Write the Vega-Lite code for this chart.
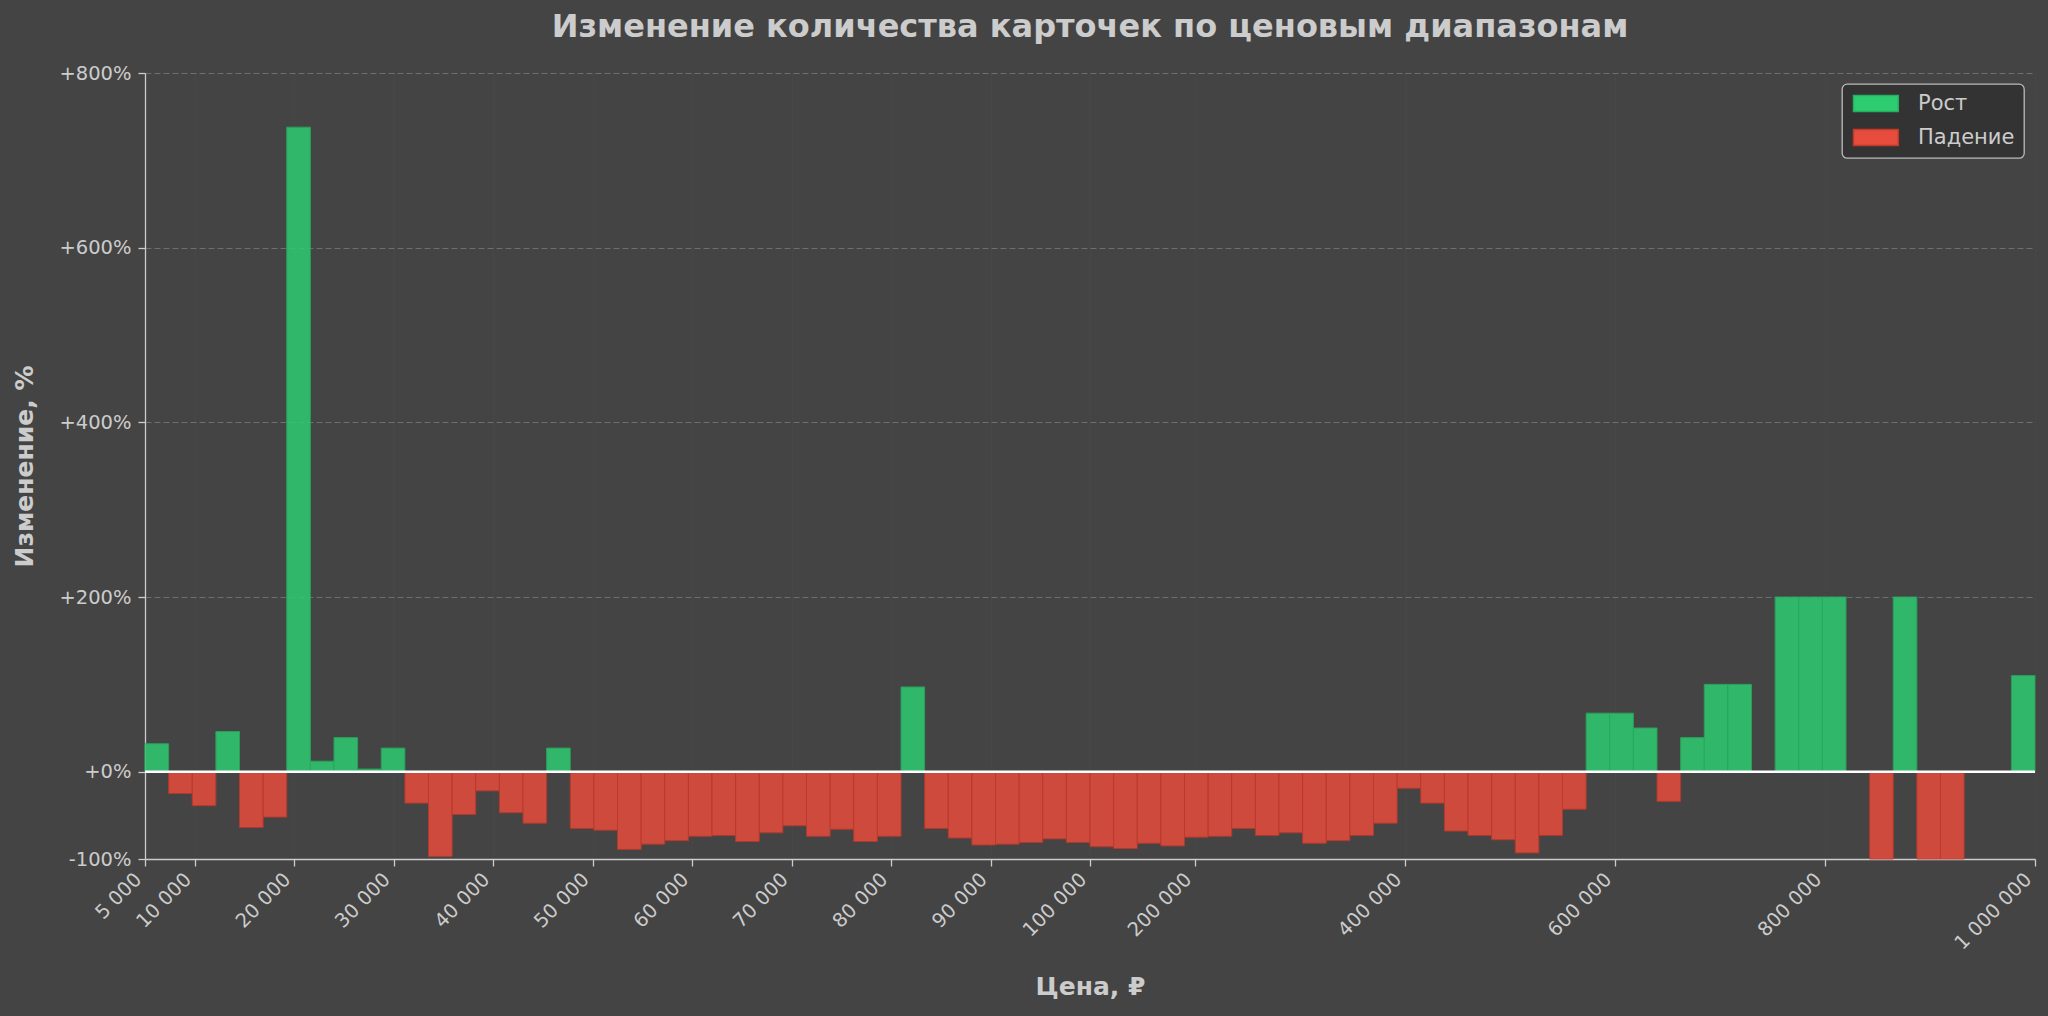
{
  "$schema": "https://vega.github.io/schema/vega-lite/v6.json",
  "background": "#444444",
  "autosize": {"type": "none"},
  "padding": {"left": 145, "top": 73, "right": 13, "bottom": 157},
  "width": 1890,
  "height": 786,
  "title": {
    "text": "Изменение количества карточек по ценовым диапазонам",
    "fontSize": 32,
    "fontWeight": "bold",
    "color": "#cccccc",
    "anchor": "middle",
    "offset": 19
  },
  "layer": [
    {
      "data": {
        "values": [
          {"lo": 5000, "hi": 7375, "pct": 32, "dir": "Рост"},
          {"lo": 7375, "hi": 9750, "pct": -25, "dir": "Падение"},
          {"lo": 9750, "hi": 12125, "pct": -39, "dir": "Падение"},
          {"lo": 12125, "hi": 14500, "pct": 46, "dir": "Рост"},
          {"lo": 14500, "hi": 16875, "pct": -64, "dir": "Падение"},
          {"lo": 16875, "hi": 19250, "pct": -52, "dir": "Падение"},
          {"lo": 19250, "hi": 21625, "pct": 738, "dir": "Рост"},
          {"lo": 21625, "hi": 24000, "pct": 12, "dir": "Рост"},
          {"lo": 24000, "hi": 26375, "pct": 39, "dir": "Рост"},
          {"lo": 26375, "hi": 28750, "pct": 3, "dir": "Рост"},
          {"lo": 28750, "hi": 31125, "pct": 27, "dir": "Рост"},
          {"lo": 31125, "hi": 33500, "pct": -36, "dir": "Падение"},
          {"lo": 33500, "hi": 35875, "pct": -97, "dir": "Падение"},
          {"lo": 35875, "hi": 38250, "pct": -49, "dir": "Падение"},
          {"lo": 38250, "hi": 40625, "pct": -22, "dir": "Падение"},
          {"lo": 40625, "hi": 43000, "pct": -47, "dir": "Падение"},
          {"lo": 43000, "hi": 45375, "pct": -59, "dir": "Падение"},
          {"lo": 45375, "hi": 47750, "pct": 27, "dir": "Рост"},
          {"lo": 47750, "hi": 50125, "pct": -65, "dir": "Падение"},
          {"lo": 50125, "hi": 52500, "pct": -67, "dir": "Падение"},
          {"lo": 52500, "hi": 54875, "pct": -89, "dir": "Падение"},
          {"lo": 54875, "hi": 57250, "pct": -83, "dir": "Падение"},
          {"lo": 57250, "hi": 59625, "pct": -79, "dir": "Падение"},
          {"lo": 59625, "hi": 62000, "pct": -74, "dir": "Падение"},
          {"lo": 62000, "hi": 64375, "pct": -73, "dir": "Падение"},
          {"lo": 64375, "hi": 66750, "pct": -80, "dir": "Падение"},
          {"lo": 66750, "hi": 69125, "pct": -70, "dir": "Падение"},
          {"lo": 69125, "hi": 71500, "pct": -62, "dir": "Падение"},
          {"lo": 71500, "hi": 73875, "pct": -74, "dir": "Падение"},
          {"lo": 73875, "hi": 76250, "pct": -66, "dir": "Падение"},
          {"lo": 76250, "hi": 78625, "pct": -80, "dir": "Падение"},
          {"lo": 78625, "hi": 81000, "pct": -74, "dir": "Падение"},
          {"lo": 81000, "hi": 83375, "pct": 97, "dir": "Рост"},
          {"lo": 83375, "hi": 85750, "pct": -65, "dir": "Падение"},
          {"lo": 85750, "hi": 88125, "pct": -76, "dir": "Падение"},
          {"lo": 88125, "hi": 90500, "pct": -84, "dir": "Падение"},
          {"lo": 90500, "hi": 92875, "pct": -83, "dir": "Падение"},
          {"lo": 92875, "hi": 95250, "pct": -81, "dir": "Падение"},
          {"lo": 95250, "hi": 97625, "pct": -77, "dir": "Падение"},
          {"lo": 97625, "hi": 100000, "pct": -81, "dir": "Падение"},
          {"lo": 100000, "hi": 122500, "pct": -86, "dir": "Падение"},
          {"lo": 122500, "hi": 145000, "pct": -88, "dir": "Падение"},
          {"lo": 145000, "hi": 167500, "pct": -82, "dir": "Падение"},
          {"lo": 167500, "hi": 190000, "pct": -85, "dir": "Падение"},
          {"lo": 190000, "hi": 212500, "pct": -75, "dir": "Падение"},
          {"lo": 212500, "hi": 235000, "pct": -74, "dir": "Падение"},
          {"lo": 235000, "hi": 257500, "pct": -65, "dir": "Падение"},
          {"lo": 257500, "hi": 280000, "pct": -73, "dir": "Падение"},
          {"lo": 280000, "hi": 302500, "pct": -70, "dir": "Падение"},
          {"lo": 302500, "hi": 325000, "pct": -82, "dir": "Падение"},
          {"lo": 325000, "hi": 347500, "pct": -79, "dir": "Падение"},
          {"lo": 347500, "hi": 370000, "pct": -73, "dir": "Падение"},
          {"lo": 370000, "hi": 392500, "pct": -59, "dir": "Падение"},
          {"lo": 392500, "hi": 415000, "pct": -19, "dir": "Падение"},
          {"lo": 415000, "hi": 437500, "pct": -36, "dir": "Падение"},
          {"lo": 437500, "hi": 460000, "pct": -68, "dir": "Падение"},
          {"lo": 460000, "hi": 482500, "pct": -73, "dir": "Падение"},
          {"lo": 482500, "hi": 505000, "pct": -78, "dir": "Падение"},
          {"lo": 505000, "hi": 527500, "pct": -93, "dir": "Падение"},
          {"lo": 527500, "hi": 550000, "pct": -73, "dir": "Падение"},
          {"lo": 550000, "hi": 572500, "pct": -43, "dir": "Падение"},
          {"lo": 572500, "hi": 595000, "pct": 67, "dir": "Рост"},
          {"lo": 595000, "hi": 617500, "pct": 67, "dir": "Рост"},
          {"lo": 617500, "hi": 640000, "pct": 50, "dir": "Рост"},
          {"lo": 640000, "hi": 662500, "pct": -34, "dir": "Падение"},
          {"lo": 662500, "hi": 685000, "pct": 39, "dir": "Рост"},
          {"lo": 685000, "hi": 707500, "pct": 100, "dir": "Рост"},
          {"lo": 707500, "hi": 730000, "pct": 100, "dir": "Рост"},
          {"lo": 730000, "hi": 752500, "pct": 0, "dir": "Рост"},
          {"lo": 752500, "hi": 775000, "pct": 200, "dir": "Рост"},
          {"lo": 775000, "hi": 797500, "pct": 200, "dir": "Рост"},
          {"lo": 797500, "hi": 820000, "pct": 200, "dir": "Рост"},
          {"lo": 820000, "hi": 842500, "pct": 0, "dir": "Рост"},
          {"lo": 842500, "hi": 865000, "pct": -100, "dir": "Падение"},
          {"lo": 865000, "hi": 887500, "pct": 200, "dir": "Рост"},
          {"lo": 887500, "hi": 910000, "pct": -100, "dir": "Падение"},
          {"lo": 910000, "hi": 932500, "pct": -100, "dir": "Падение"},
          {"lo": 932500, "hi": 955000, "pct": 0, "dir": "Рост"},
          {"lo": 955000, "hi": 977500, "pct": 0, "dir": "Рост"},
          {"lo": 977500, "hi": 1000000, "pct": 110, "dir": "Рост"}
        ]
      },
      "mark": {"type": "bar", "opacity": 0.85, "strokeWidth": 1},
      "encoding": {
        "x": {
          "field": "lo",
          "type": "quantitative",
          "title": "Цена, ₽",
          "scale": {"domain": [5000, 100000, 1000000], "range": [0, 945, 1890], "nice": false, "zero": false},
          "axis": {
            "values": [5000, 10000, 20000, 30000, 40000, 50000, 60000, 70000, 80000, 90000, 100000, 200000, 400000, 600000, 800000, 1000000],
            "labelExpr": "replace(format(datum.value, ','), regexp(',', 'g'), ' ')",
            "labelAngle": -45,
            "labelAlign": "right",
            "labelBaseline": "bottom",
            "labelPadding": 17,
            "labelOverlap": false,
            "labelFlush": false,
            "titlePadding": 22,
            "grid": true,
            "gridColor": "#ffffff",
            "gridOpacity": 0.04,
            "gridDash": [2, 2]
          }
        },
        "x2": {"field": "hi"},
        "y": {
          "field": "pct",
          "type": "quantitative",
          "title": "Изменение, %",
          "scale": {"domain": [-100, 800], "nice": false},
          "axis": {
            "values": [-100, 0, 200, 400, 600, 800],
            "labelExpr": "datum.value >= 0 ? '+' + datum.value + '%' : datum.value + '%'",
            "labelPadding": 7,
            "labelOverlap": false,
            "titlePadding": 21,
            "grid": true,
            "gridColor": "#6e6e6e",
            "gridDash": [6, 3]
          }
        },
        "y2": {"datum": 0},
        "color": {
          "field": "dir",
          "type": "nominal",
          "title": null,
          "scale": {"domain": ["Рост", "Падение"], "range": ["#2ecc71", "#e74c3c"]}
        },
        "stroke": {
          "field": "dir",
          "type": "nominal",
          "title": null,
          "scale": {"domain": ["Рост", "Падение"], "range": ["#27ae60", "#c0392b"]}
        }
      }
    },
    {
      "data": {"values": [{"y": 0}]},
      "mark": {"type": "rule", "color": "#ffffff", "strokeWidth": 2.5},
      "encoding": {"y": {"field": "y", "type": "quantitative"}}
    }
  ],
  "config": {
    "font": "DejaVu Sans",
    "view": {"stroke": null},
    "axis": {
      "labelFont": "DejaVu Sans",
      "labelFontSize": 19.5,
      "labelColor": "#cccccc",
      "titleFont": "DejaVu Sans",
      "titleFontSize": 25,
      "titleFontWeight": "bold",
      "titleColor": "#cccccc",
      "domainColor": "#cccccc",
      "domainWidth": 1.3,
      "tickColor": "#cccccc",
      "tickWidth": 1.3,
      "tickSize": 7
    },
    "legend": {
      "orient": "top-right",
      "offset": 11,
      "fillColor": "#333333",
      "strokeColor": "#bbbbbb",
      "strokeWidth": 1.3,
      "cornerRadius": 5,
      "padding": 9,
      "labelFont": "DejaVu Sans",
      "labelFontSize": 21,
      "labelColor": "#cccccc",
      "labelOffset": 46,
      "rowPadding": 11,
      "symbolType": "M-1,-1H4.6V1H-1Z",
      "symbolSize": 256,
      "symbolOpacity": 1,
      "symbolStrokeWidth": 1.5
    }
  }
}
